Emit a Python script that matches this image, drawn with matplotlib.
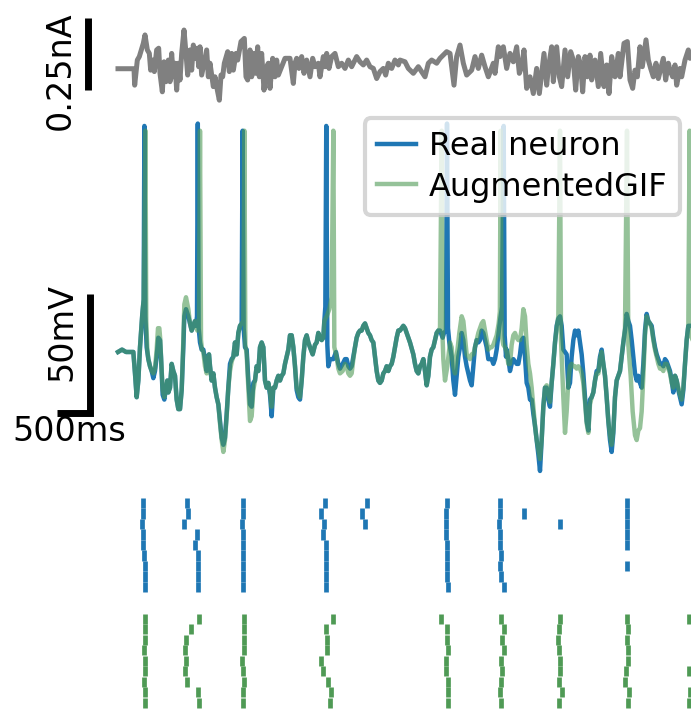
import numpy as np
import matplotlib.pyplot as plt

# injected current, (time ms, current pA)
current = [
    (0, 0), (240, 0), (250, -57), (290, 30), (320, 42), (380, 88), (405, 117), (440, 65),
    (470, 53), (490, -5), (520, 30), (545, -10), (580, 65), (610, 71), (630, -16), (665, -80),
    (690, 24), (720, -45), (755, 30), (780, -45), (805, 53), (830, -28), (855, 19), (880, -74),
    (905, 19), (930, -39), (955, 53), (990, 134), (1020, 53), (1045, -22), (1080, 65), (1105, -5),
    (1130, 82), (1155, 36), (1190, 71), (1210, 7), (1230, 76), (1255, -22), (1330, 65), (1355, -28),
    (1380, 19), (1430, -62), (1455, -28), (1490, -74), (1520, -109), (1545, -22), (1570, -28),
    (1595, 19), (1645, 59), (1670, -10), (1705, 53), (1730, -5), (1770, 53), (1795, 30), (1845, 94),
    (1895, 105), (1920, -28), (1945, -39), (1980, 65), (2005, -28), (2040, 53), (2065, -16),
    (2095, 76), (2120, -28), (2155, 53), (2190, -74), (2220, 1), (2255, 19), (2280, -68), (2320, 36),
    (2355, -28), (2380, 30), (2405, -22), (2455, 7), (2505, 36), (2580, 36), (2630, -51), (2655, 19),
    (2680, 36), (2715, 1), (2755, 42), (2790, -16), (2830, 30), (2880, -28), (2920, 36), (2955, 7),
    (3005, 19), (3030, -28), (3080, 42), (3105, 7), (3130, 53), (3165, 1), (3205, 42), (3255, 53),
    (3305, 7), (3355, 19), (3405, 1), (3455, 30), (3505, 7), (3580, 42), (3630, 24), (3680, 13),
    (3730, 30), (3780, 7), (3830, 1), (3880, -34), (3930, -10), (3980, 1), (4015, -22), (4055, 19),
    (4105, 1), (4155, 30), (4205, 13), (4230, 30), (4305, 24), (4355, 1), (4430, -16), (4505, 7),
    (4605, -28), (4655, 19), (4705, 30), (4780, 19), (4830, 36), (4930, 59), (4980, 53), (5040, -57),
    (5080, 42), (5130, 82), (5180, 19), (5230, -22), (5305, -5), (5355, 42), (5405, 1), (5455, 47),
    (5505, 7), (5555, -28), (5630, 19), (5655, -16), (5705, 76), (5730, 42), (5780, 76), (5830, 1),
    (5880, 53), (5930, 24), (5980, 76), (6020, -16), (6055, 7), (6090, 65), (6130, -68), (6180, -28),
    (6230, -86), (6280, 1), (6320, -86), (6390, 53), (6430, -57), (6455, 1), (6505, 76), (6530, -45),
    (6580, 76), (6620, -28), (6655, -62), (6705, 65), (6745, -28), (6790, 59), (6830, 30), (6865, -74),
    (6905, 42), (6940, 13), (6970, -80), (7005, 42), (7040, -28), (7080, 47), (7105, -39), (7155, 30),
    (7205, -62), (7240, 53), (7290, -62), (7330, 13), (7365, -86), (7405, 42), (7455, -28), (7505, 53),
    (7530, -28), (7590, 88), (7640, 94), (7680, -39), (7720, -68), (7755, -5), (7790, -28), (7830, 76),
    (7865, 7), (7920, 100), (7955, 30), (7990, 1), (8030, -28), (8070, 19), (8105, -34), (8180, 36),
    (8215, -39), (8255, 19), (8280, -5), (8320, -28), (8355, 13), (8380, -57), (8430, 1), (8455, -28),
    (8505, 30), (8555, 65), (8580, 36), (8620, 40),
]

# membrane potential of the recorded neuron, (time ms, mV)
real_v = [
    (0, -65), (60, -64), (120, -65), (230, -65), (255, -74), (280, -84), (305, -77), (330, -63),
    (365, -49), (385, -43), (396, 30), (410, -50), (430, -63), (455, -68), (480, -71), (505, -73),
    (530, -76), (555, -73), (580, -67), (605, -59), (630, -60), (645, -67), (670, -83), (695, -85),
    (720, -80), (740, -77), (755, -82), (780, -80), (805, -70), (830, -73), (855, -75), (880, -85),
    (905, -89), (930, -89), (955, -81), (980, -63), (995, -50), (1020, -47), (1055, -50), (1080, -53),
    (1105, -56), (1130, -54), (1155, -52), (1170, -54), (1185, -50), (1197, 31), (1210, -55),
    (1230, -61), (1255, -64), (1280, -64), (1305, -68), (1330, -73), (1345, -67), (1365, -66),
    (1380, -71), (1405, -77), (1430, -74), (1455, -80), (1480, -84), (1505, -87), (1530, -94),
    (1555, -101), (1580, -104), (1605, -101), (1630, -91), (1655, -80), (1680, -70), (1705, -68),
    (1730, -67), (1755, -61), (1780, -66), (1805, -57), (1830, -54), (1855, -53), (1869, 28),
    (1885, -55), (1905, -63), (1930, -64), (1955, -77), (1980, -87), (2005, -88), (2030, -78),
    (2055, -77), (2080, -71), (2105, -73), (2130, -63), (2155, -61), (2180, -63), (2205, -77),
    (2230, -80), (2255, -78), (2280, -83), (2305, -92), (2330, -80), (2355, -80), (2380, -77),
    (2405, -75), (2430, -77), (2455, -75), (2480, -74), (2505, -70), (2530, -67), (2555, -64),
    (2580, -58), (2605, -58), (2630, -63), (2655, -71), (2680, -81), (2705, -84), (2730, -85),
    (2755, -77), (2780, -67), (2805, -60), (2830, -58), (2855, -61), (2880, -63), (2920, -66),
    (2955, -62), (2980, -61), (3005, -57), (3030, -59), (3055, -60), (3080, -59), (3095, -52),
    (3110, -46), (3124, 30), (3140, -62), (3155, -71), (3180, -68), (3230, -68), (3270, -65),
    (3305, -70), (3330, -72), (3370, -70), (3405, -68), (3430, -68), (3455, -71), (3480, -72),
    (3505, -71), (3530, -67), (3555, -63), (3580, -59), (3605, -57), (3630, -56), (3655, -56),
    (3680, -54), (3705, -53), (3730, -55), (3755, -57), (3780, -58), (3805, -60), (3830, -61),
    (3855, -67), (3880, -73), (3905, -77), (3930, -78), (3955, -77), (3980, -74), (4005, -73),
    (4030, -71), (4055, -73), (4080, -71), (4105, -70), (4130, -67), (4155, -63), (4180, -59),
    (4205, -56), (4230, -56), (4255, -55), (4280, -54), (4305, -55), (4330, -57), (4355, -59),
    (4380, -61), (4430, -66), (4455, -70), (4480, -73), (4505, -74), (4530, -71), (4555, -70),
    (4580, -68), (4605, -73), (4630, -79), (4655, -75), (4680, -67), (4705, -64), (4730, -63),
    (4755, -60), (4780, -57), (4805, -56), (4830, -56), (4870, -59), (4890, -57), (4920, -56),
    (4935, 31), (4950, -55), (4970, -61), (5005, -67), (5030, -77), (5055, -83), (5080, -75),
    (5105, -67), (5130, -63), (5155, -57), (5180, -60), (5205, -67), (5230, -71), (5255, -74),
    (5280, -77), (5305, -79), (5330, -71), (5355, -63), (5380, -60), (5405, -61), (5430, -60),
    (5455, -56), (5480, -57), (5505, -60), (5530, -63), (5555, -68), (5580, -68), (5605, -68),
    (5630, -70), (5655, -68), (5680, -64), (5705, -58), (5730, -52), (5760, -46), (5785, 30),
    (5800, -58), (5820, -67), (5830, -64), (5855, -68), (5880, -73), (5905, -70), (5930, -68),
    (5955, -69), (5980, -70), (6005, -70), (6030, -66), (6055, -60), (6080, -59), (6105, -67),
    (6130, -78), (6155, -80), (6180, -85), (6205, -85), (6230, -91), (6255, -96), (6280, -102),
    (6305, -108), (6330, -115), (6355, -102), (6380, -88), (6405, -80), (6430, -80), (6455, -85),
    (6480, -88), (6505, -78), (6530, -70), (6555, -61), (6580, -54), (6605, -51), (6630, -50),
    (6655, -54), (6680, -64), (6705, -65), (6730, -66), (6755, -80), (6780, -78), (6805, -67),
    (6830, -60), (6855, -56), (6880, -58), (6905, -56), (6930, -61), (6955, -66), (6980, -74),
    (7005, -84), (7030, -94), (7055, -98), (7080, -85), (7105, -84), (7130, -82), (7155, -77),
    (7180, -73), (7205, -73), (7230, -67), (7255, -64), (7280, -70), (7305, -75), (7330, -84),
    (7355, -94), (7380, -102), (7405, -107), (7430, -99), (7455, -84), (7480, -77), (7505, -75),
    (7530, -73), (7555, -67), (7580, -61), (7605, -56), (7630, -49), (7655, -52), (7680, -54),
    (7705, -60), (7730, -67), (7755, -74), (7780, -77), (7805, -75), (7830, -78), (7855, -80),
    (7880, -70), (7905, -56), (7930, -49), (7955, -52), (7980, -53), (8005, -54), (8030, -59),
    (8055, -63), (8080, -66), (8105, -68), (8130, -70), (8155, -70), (8180, -71), (8205, -68),
    (8230, -69), (8255, -71), (8280, -73), (8305, -77), (8330, -82), (8355, -75), (8380, -77),
    (8405, -81), (8430, -84), (8455, -87), (8480, -81), (8505, -70), (8530, -60), (8555, -54),
    (8580, -54), (8620, -54),
]

# membrane potential of the AugmentedGIF model, (time ms, mV)
model_v = [
    (0, -65), (60, -64), (120, -65), (230, -65), (255, -74), (280, -84), (305, -77), (330, -63),
    (365, -49), (385, -43), (412, 28), (424, -52), (440, -64), (455, -68), (480, -71), (505, -73),
    (530, -74), (555, -72), (580, -64), (600, -55), (620, -55), (635, -60), (645, -67), (670, -81),
    (695, -84), (720, -80), (740, -77), (755, -82), (780, -80), (805, -70), (830, -73), (855, -75),
    (880, -85), (905, -89), (930, -89), (955, -81), (980, -60), (995, -45), (1020, -42), (1055, -47),
    (1080, -53), (1105, -56), (1130, -54), (1155, -52), (1170, -54), (1190, -56), (1215, -53),
    (1230, 28), (1245, -60), (1260, -64), (1280, -65), (1305, -71), (1330, -74), (1345, -68),
    (1365, -66), (1380, -71), (1405, -77), (1430, -74), (1455, -80), (1480, -84), (1505, -87),
    (1530, -95), (1555, -102), (1580, -107), (1605, -102), (1630, -92), (1655, -80), (1680, -73),
    (1705, -69), (1730, -67), (1755, -61), (1780, -66), (1805, -57), (1830, -54), (1855, -53),
    (1880, -52), (1896, 28), (1910, -62), (1930, -66), (1955, -80), (1980, -94), (2005, -92),
    (2030, -81), (2055, -77), (2080, -71), (2105, -73), (2130, -63), (2155, -61), (2180, -63),
    (2205, -77), (2230, -80), (2255, -78), (2280, -82), (2305, -88), (2330, -80), (2355, -80),
    (2380, -77), (2405, -75), (2430, -77), (2455, -75), (2480, -74), (2505, -70), (2530, -67),
    (2555, -64), (2580, -58), (2605, -58), (2630, -63), (2655, -71), (2680, -80), (2705, -82),
    (2730, -84), (2755, -77), (2780, -67), (2805, -60), (2830, -58), (2855, -61), (2880, -63),
    (2920, -66), (2955, -62), (2980, -61), (3005, -57), (3030, -59), (3055, -60), (3080, -59),
    (3095, -52), (3130, -50), (3170, -47), (3205, -42), (3230, 28), (3245, -63), (3280, -67),
    (3305, -72), (3330, -74), (3370, -73), (3405, -70), (3430, -71), (3455, -74), (3480, -75),
    (3505, -74), (3530, -68), (3555, -63), (3580, -59), (3605, -57), (3630, -56), (3655, -56),
    (3680, -54), (3705, -53), (3730, -55), (3755, -57), (3780, -58), (3805, -60), (3830, -61),
    (3855, -67), (3880, -73), (3905, -77), (3930, -78), (3955, -77), (3980, -74), (4005, -73),
    (4030, -71), (4055, -73), (4080, -71), (4105, -70), (4130, -67), (4155, -63), (4180, -59),
    (4205, -56), (4230, -56), (4255, -55), (4280, -54), (4305, -55), (4330, -57), (4355, -59),
    (4380, -61), (4430, -66), (4455, -70), (4480, -73), (4505, -74), (4530, -71), (4555, -70),
    (4580, -68), (4605, -73), (4630, -79), (4655, -75), (4680, -67), (4705, -64), (4730, -63),
    (4755, -60), (4780, -57), (4805, -56), (4830, -55), (4855, 28), (4870, -60), (4880, -68),
    (4905, -77), (4940, -71), (4980, -61), (5005, -63), (5030, -71), (5055, -74), (5080, -67),
    (5120, -57), (5155, -50), (5180, -52), (5205, -59), (5230, -66), (5255, -67), (5280, -68),
    (5305, -66), (5330, -66), (5355, -63), (5405, -57), (5455, -53), (5480, -52), (5505, -56),
    (5530, -60), (5555, -64), (5580, -63), (5605, -63), (5630, -62), (5655, -60), (5680, -58),
    (5710, -53), (5728, -48), (5740, 28), (5755, -58), (5780, -62), (5805, -63), (5830, -65),
    (5855, -70), (5880, -70), (5905, -62), (5930, -58), (5955, -57), (5980, -59), (6005, -60),
    (6030, -60), (6055, -55), (6080, -47), (6105, -50), (6130, -62), (6155, -70), (6180, -74),
    (6205, -80), (6230, -88), (6255, -96), (6280, -102), (6305, -106), (6330, -110), (6355, -102),
    (6380, -88), (6405, -80), (6430, -79), (6455, -82), (6480, -86), (6505, -78), (6530, -70),
    (6555, -61), (6580, -55), (6605, -50), (6630, 28), (6645, -60), (6680, -84), (6705, -99),
    (6730, -90), (6755, -77), (6780, -71), (6805, -70), (6830, -71), (6855, -71), (6880, -72),
    (6905, -71), (6930, -72), (6955, -74), (6980, -78), (7005, -86), (7030, -95), (7055, -99),
    (7080, -87), (7105, -84), (7130, -82), (7155, -77), (7180, -74), (7205, -74), (7230, -68),
    (7255, -65), (7280, -70), (7305, -75), (7330, -84), (7355, -94), (7380, -100), (7405, -104),
    (7430, -98), (7455, -84), (7480, -77), (7505, -75), (7530, -73), (7555, -67), (7580, -61),
    (7605, -55), (7635, 28), (7655, -62), (7690, -75), (7720, -90), (7755, -100), (7780, -102),
    (7805, -98), (7830, -97), (7855, -90), (7880, -75), (7905, -58), (7930, -50), (7955, -52),
    (7980, -53), (8005, -55), (8030, -60), (8055, -64), (8080, -67), (8105, -70), (8130, -72),
    (8155, -72), (8180, -73), (8205, -70), (8230, -70), (8255, -72), (8280, -74), (8305, -78),
    (8330, -80), (8355, -75), (8380, -77), (8405, -80), (8430, -83), (8455, -85), (8480, -80),
    (8505, -70), (8530, -60), (8555, -54), (8574, 28), (8590, -58), (8620, -60),
]

# spike times (ms) for the 9 repeated trials
real_spikes = [
    [370, 1035, 1870, 3100, 3730, 4935, 5725, 7640],
    [370, 1045, 1870, 3050, 3660, 4925, 5725, 6090, 7640],
    [364, 995, 1865, 3095, 3700, 4915, 5720, 6630, 7640],
    [370, 1190, 1875, 3070, 4920, 5725, 7640],
    [380, 1160, 1875, 3115, 4930, 5725, 7640],
    [394, 1200, 1875, 3115, 4940, 5740],
    [400, 1200, 1875, 3115, 4940, 5730, 7640],
    [400, 1200, 1875, 3125, 4940, 5740],
    [400, 1200, 1875, 3125, 4950, 5790],
]
model_spikes = [
    [400, 1220, 1895, 3230, 4850, 5740, 6630, 7635, 8570],
    [410, 1090, 1885, 3125, 4935, 5795, 6620, 7650],
    [410, 1015, 1885, 3140, 4935, 5760, 6600, 7630],
    [395, 1005, 1885, 3140, 4950, 5795, 6615, 7650],
    [405, 1015, 1860, 3040, 4915, 5745, 6630, 7655],
    [405, 1010, 1880, 3080, 4925, 5765, 6630, 7620, 8565],
    [395, 1035, 1890, 3150, 4955, 5740, 6615, 7610],
    [405, 1205, 1880, 3200, 4945, 5735, 6655, 7665, 8575],
    [405, 1220, 1880, 3185, 4945, 5750, 6620, 7650, 8560],
]

blue = '#1f77b4'
green = '#4f9a55'
xlim = (-1770, 8595)

fig = plt.figure(figsize=(6.91, 7.09), dpi=100)

# current trace
ax_i = fig.add_axes([0, 599 / 709, 1, 110 / 709])
t, i = np.array(current).T
ax_i.plot(t, i, color='gray', lw=3.6)
ax_i.plot([-450, -450], [-74, 176], color='k', lw=5, solid_capstyle='butt')
ax_i.text(-870, -8, '0.25nA', rotation=90, ha='center', va='center', fontsize=24)
ax_i.set_xlim(*xlim)
ax_i.set_ylim(-143, 238)
ax_i.axis('off')

# voltage traces
ax_v = fig.add_axes([0, 229 / 709, 1, 370 / 709])
t, v = np.array(real_v).T
ax_v.plot(t, v, color=blue, lw=3.2, label='Real neuron')
t, v = np.array(model_v).T
ax_v.plot(t, v, color=green, lw=3.2, alpha=0.6, label='AugmentedGIF')
ax_v.plot([-920, -420, -420], [-90.6, -90.6, -40.6], color='k', lw=5,
          solid_joinstyle='miter', solid_capstyle='butt')
ax_v.text(-840, -56.6, '50mV', rotation=90, ha='center', va='center', fontsize=24)
ax_v.text(-735, -98.6, '500ms', ha='center', va='center', fontsize=24)
leg = ax_v.legend(loc='upper right', bbox_to_anchor=(0.984, 0.978), borderaxespad=0,
                  fontsize=23, handlelength=1.2, handletextpad=0.4, labelspacing=0.3)
leg.get_frame().set_linewidth(3)
ax_v.set_xlim(*xlim)
ax_v.set_ylim(-118.8, 36.7)
ax_v.axis('off')

# spike rasters
ax_r = fig.add_axes([0, 0, 1, 219 / 709])
ax_r.eventplot(real_spikes, lineoffsets=list(range(9)), linelengths=0.97,
               linewidths=3.4, colors=blue)
ax_r.eventplot(model_spikes, lineoffsets=list(range(11, 20)), linelengths=0.97,
               linewidths=3.4, colors=green)
ax_r.set_xlim(*xlim)
ax_r.set_ylim(19.6, -1.24)
ax_r.axis('off')

fig.savefig('out.png', dpi=100)
